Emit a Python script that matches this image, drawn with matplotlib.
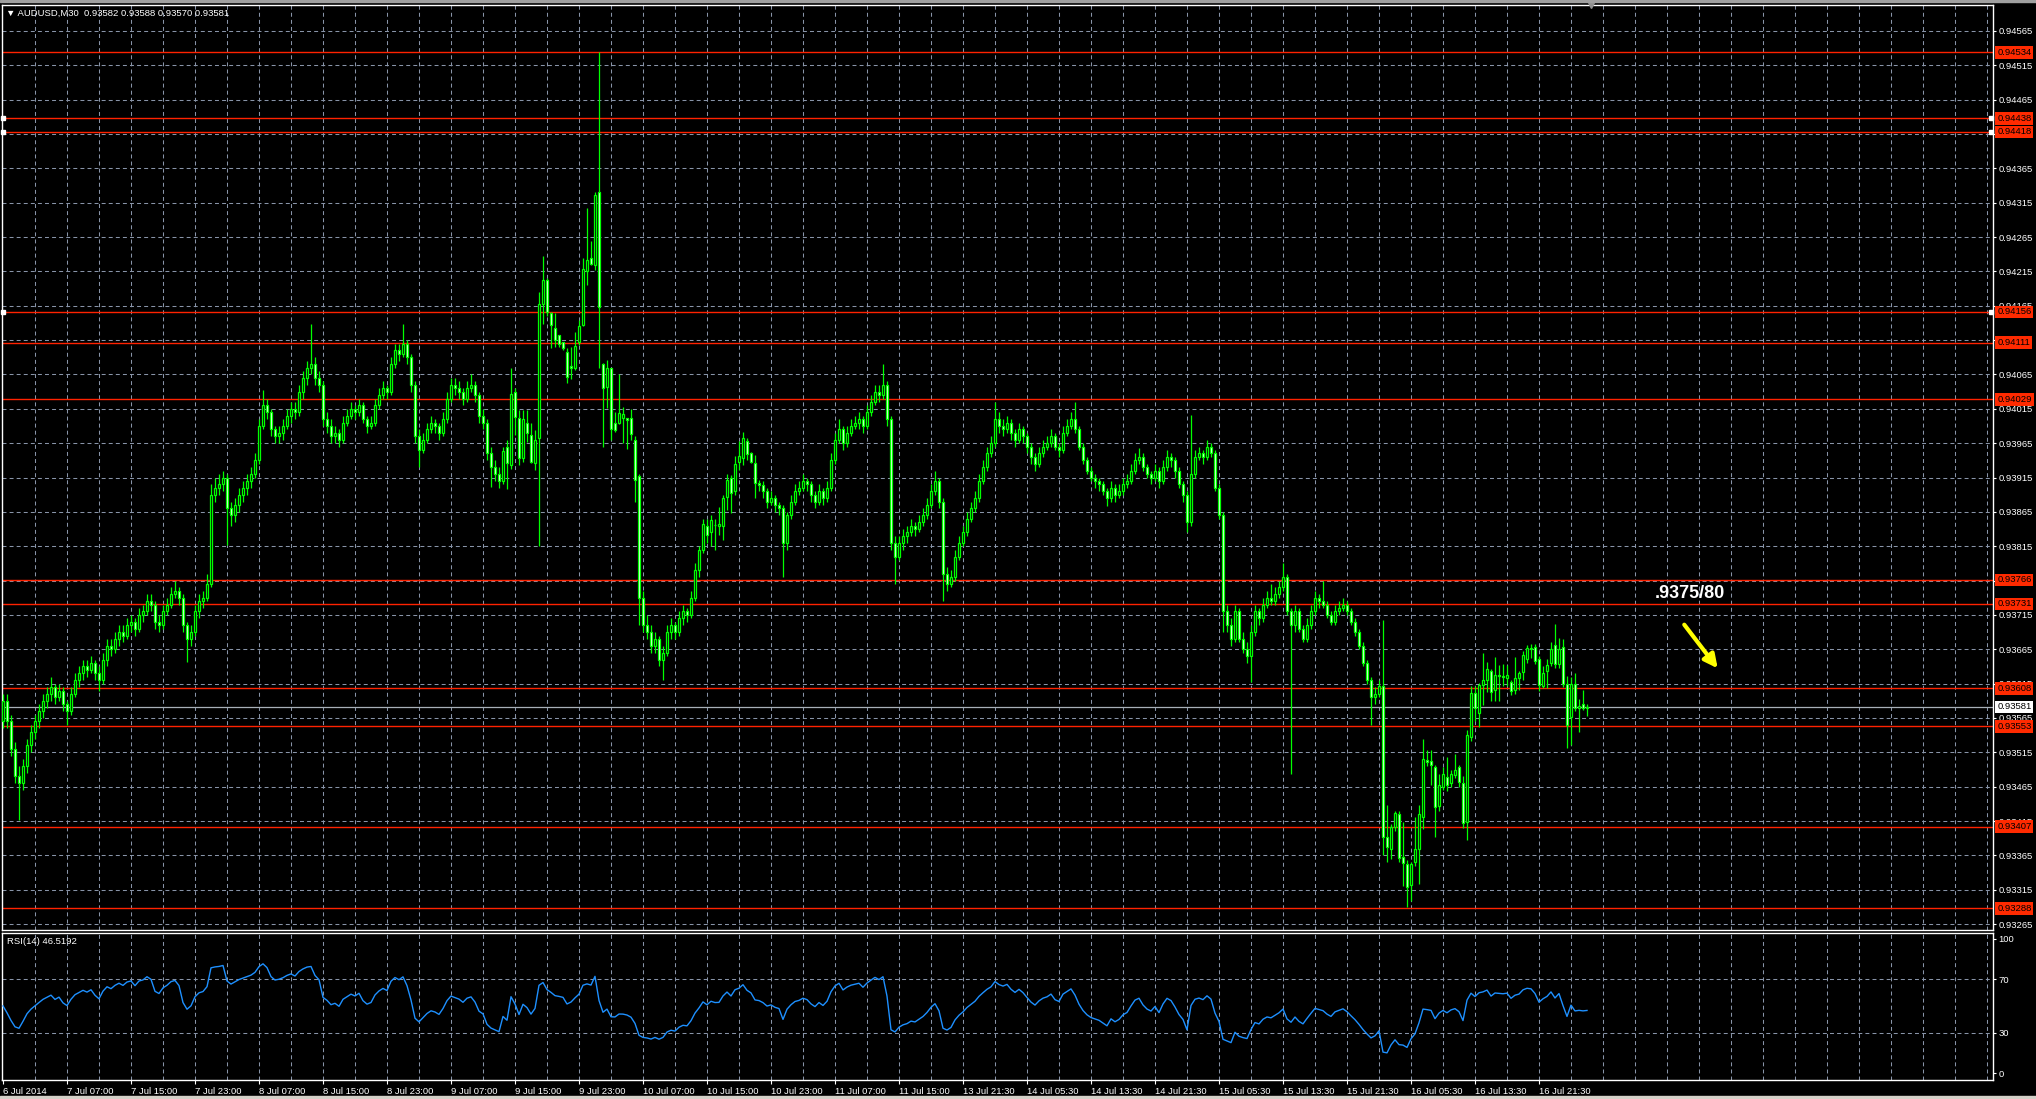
import numpy as np
import matplotlib
matplotlib.use('Agg')
import matplotlib.pyplot as plt
import matplotlib.transforms as mtrans
from matplotlib.patches import Rectangle

# AUDUSD M30 candles, prices stored as points above 0.93000
opens = [
    560, 590, 560, 520, 480, 470, 495, 525, 545, 560,
    575, 590, 600, 610, 595, 605, 585, 575, 600, 620,
    630, 640, 635, 645, 630, 620, 650, 670, 665, 680,
    690, 685, 700, 705, 695, 715, 720, 735, 730, 705,
    700, 720, 730, 745, 750, 740, 700, 680, 690, 720,
    735, 740, 760, 890, 900, 905, 915, 870, 860, 875,
    890, 900, 910, 920, 940, 990, 1020, 1010, 985, 975,
    980, 990, 1005, 1015, 1010, 1040, 1060, 1075, 1080, 1060,
    1050, 1000, 990, 975, 980, 970, 995, 1005, 1015, 1010,
    1020, 1000, 990, 995, 1020, 1035, 1045, 1040, 1080, 1100,
    1095, 1110, 1090, 1050, 975, 955, 970, 985, 995, 990,
    980, 1000, 1030, 1050, 1045, 1040, 1030, 1045, 1050, 1035,
    1005, 995, 950, 930, 920,
    910, 959, 933, 1039, 1001, 944, 994, 977, 936, 973,
    1167, 1202, 1154, 1132, 1122, 1112, 1098, 1077, 1074, 1112,
    1137, 1216, 1234, 1224, 1331, 1080, 1047, 1074, 994, 995,
    1001, 1002, 1002, 970, 917,
    740, 700, 690, 670, 680, 650, 660, 690, 700, 690,
    710, 720, 715, 740, 780,
    810, 845, 836, 846, 845, 845, 886, 914, 896, 938,
    944, 968, 950, 936, 907,
    904, 895, 880, 885, 875, 870, 820, 860, 880, 895,
    900, 910, 905, 890, 880, 895, 885, 900, 940, 970,
    985, 965, 980, 990, 995, 1000, 990, 1010, 1025, 1040,
    1035, 1050, 1000, 820, 800, 820, 830, 835, 845, 840,
    850, 860, 875, 895, 910, 880, 775, 760, 770, 800,
    820, 835, 855, 870, 885, 910, 930, 950, 965, 1000,
    990, 985, 995, 980, 970, 985, 975, 960, 945, 935,
    950, 960, 965, 975, 960, 955, 980, 990, 1000, 985,
    960, 940, 925, 915, 910, 905, 895, 885, 900, 890,
    895, 905, 910, 925, 940, 945, 930, 920, 915, 925,
    910, 930, 945, 940, 925, 905, 890, 850, 920, 945,
    950, 945, 960, 950, 900, 860, 720, 700, 680, 720,
    680, 665, 655, 690, 720, 710, 730, 740, 735, 745,
    755, 770, 720, 700, 720, 695, 680, 700, 720, 740,
    735, 730, 715, 705, 720, 725, 730, 720, 705, 690,
    670, 645, 620, 595, 600,
    612, 392, 375, 406, 425, 363, 353, 322, 355, 374,
    421, 504, 502, 493, 437, 465, 479, 470, 482, 493,
    471, 413, 537, 601, 572, 613, 621, 634, 606, 628,
    626, 623, 617, 606, 623, 632, 651, 667, 669, 651,
    611, 634, 645, 671, 643, 669, 614, 566, 614, 579,
    585, 580,
]
highs = [
    600, 600, 570, 530, 495, 505, 535, 555, 570, 585,
    600, 610, 625, 615, 615, 610, 590, 610, 630, 640,
    650, 650, 655, 650, 640, 660, 680, 680, 690, 700,
    700, 710, 715, 710, 725, 730, 745, 745, 735, 715,
    730, 740, 755, 765, 755, 745, 705, 700, 730, 745,
    750, 775, 905, 915, 920, 925, 920, 880, 885, 900,
    910, 920, 930, 950, 1000, 1043, 1030, 1015, 990, 990,
    1000, 1015, 1025, 1025, 1050, 1070, 1085, 1138, 1090, 1070,
    1055, 1010, 1000, 990, 985, 1005, 1015, 1025, 1020, 1030,
    1025, 1005, 1005, 1030, 1045, 1055, 1050, 1090, 1110, 1110,
    1138, 1115, 1095, 1055, 985, 980, 995, 1005, 1000, 995,
    1010, 1040, 1060, 1060, 1055, 1045, 1055, 1065, 1055, 1040,
    1015, 1000, 960, 940, 930,
    960, 969, 1074, 1045, 1013, 1013, 1013, 994, 984, 1185,
    1237, 1205, 1156, 1154, 1122, 1112, 1104, 1105, 1127, 1144,
    1234, 1307, 1260, 1330, 1535, 1081, 1086, 1074, 1011, 1066,
    1018, 1002, 1015, 975, 920,
    750, 715, 700, 690, 685, 670, 700, 710, 705, 720,
    730, 725, 750, 790, 815,
    854, 855, 860, 855, 872, 890, 920, 918, 946, 968,
    982, 972, 952, 948, 912,
    910, 900, 895, 890, 880, 875, 865, 890, 905, 910,
    920, 915, 910, 895, 905, 900, 910, 950, 980, 1000,
    990, 990, 1000, 1005, 1010, 1005, 1020, 1035, 1050, 1050,
    1080, 1055, 1005, 830, 830, 840, 845, 855, 850, 860,
    870, 885, 905, 925, 915, 885, 785, 780, 810, 830,
    845, 865, 880, 895, 920, 940, 960, 975, 1025, 1010,
    1000, 1005, 1000, 985, 995, 990, 980, 965, 950, 960,
    970, 975, 985, 980, 965, 990, 1000, 1010, 1025, 990,
    965, 945, 930, 920, 915, 910, 900, 910, 905, 905,
    915, 920, 935, 950, 958, 950, 935, 925, 935, 930,
    940, 955, 950, 945, 930, 910, 895, 1006, 955, 960,
    955, 970, 965, 955, 905, 865, 730, 710, 730, 725,
    690, 675, 700, 730, 725, 740, 750, 760, 755, 765,
    790, 775, 725, 730, 725, 700, 710, 730, 750, 745,
    765, 735, 720, 730, 735, 740, 735, 725, 710, 695,
    675, 650, 625, 610, 620,
    708, 438, 410, 430, 430, 414, 358, 356, 421, 438,
    534, 518, 518, 497, 484, 494, 508, 490, 513, 497,
    480, 547, 611, 611, 616, 659, 647, 637, 654, 642,
    644, 642, 620, 654, 633, 662, 671, 672, 672, 655,
    641, 651, 676, 702, 682, 680, 626, 625, 631, 592,
    606, 586,
]
lows = [
    550, 550, 510, 470, 416, 460, 485, 515, 535, 550,
    565, 580, 590, 585, 590, 575, 555, 570, 595, 610,
    620, 625, 630, 620, 605, 615, 640, 655, 660, 670,
    675, 680, 690, 685, 690, 705, 715, 720, 695, 690,
    695, 715, 725, 740, 730, 690, 646, 670, 685, 710,
    725, 735, 755, 880, 890, 895, 817, 845, 850, 865,
    880, 890, 900, 915, 935, 985, 1000, 975, 965, 965,
    970, 985, 995, 1000, 1005, 1030, 1050, 1065, 1050, 1040,
    990, 980, 965, 965, 960, 965, 990, 1000, 1000, 1005,
    995, 980, 985, 990, 1015, 1030, 1030, 1035, 1075, 1085,
    1090, 1080, 1040, 965, 930, 950, 965, 980, 980, 970,
    975, 995, 1025, 1035, 1030, 1020, 1025, 1040, 1025, 995,
    985, 940, 901, 910, 900,
    906, 899, 928, 977, 933, 938, 967, 936, 926, 815,
    1139, 1150, 1103, 1105, 1105, 1100, 1053, 1058, 1072, 1108,
    1135, 1195, 1224, 1217, 1074, 960, 1016, 969, 982, 993,
    965, 957, 969, 880, 700,
    690, 680, 660, 660, 640, 620, 655, 680, 680, 685,
    700, 705, 710, 735, 770,
    805, 820, 815, 809, 831, 824, 868, 863, 890, 926,
    933, 940, 936, 885, 895,
    885, 870, 875, 865, 860, 770, 810, 855, 875, 890,
    895, 895, 880, 870, 875, 875, 880, 895, 935, 965,
    955, 960, 975, 985, 985, 980, 985, 1005, 1020, 1025,
    1030, 990, 810, 760, 795, 810, 820, 830, 830, 835,
    845, 855, 870, 890, 870, 735, 750, 755, 765, 795,
    815, 830, 850, 865, 880, 905, 925, 945, 960, 980,
    975, 980, 970, 960, 965, 965, 950, 935, 925, 930,
    945, 955, 960, 955, 945, 950, 975, 985, 980, 955,
    935, 920, 910, 900, 895, 890, 873, 880, 880, 885,
    890, 900, 905, 920, 935, 925, 915, 905, 910, 900,
    905, 925, 930, 915, 900, 880, 836, 845, 915, 940,
    935, 940, 945, 895, 855, 690, 690, 670, 675, 675,
    660, 645, 618, 685, 700, 705, 725, 730, 730, 740,
    750, 715, 484, 690, 690, 675, 675, 695, 715, 725,
    725, 710, 700, 700, 715, 720, 715, 700, 685, 665,
    640, 615, 555, 585, 595,
    366, 356, 360, 400, 355, 320, 290, 298, 350, 324,
    404, 495, 468, 392, 430, 460, 459, 465, 478, 465,
    405, 388, 531, 560, 552, 584, 603, 589, 589, 589,
    611, 611, 598, 600, 606, 620, 645, 652, 644, 605,
    608, 608, 640, 638, 638, 610, 521, 526, 575, 544,
    576, 568,
]
closes = [
    590, 560, 520, 480, 470, 495, 525, 545, 560, 575,
    590, 600, 610, 595, 605, 585, 575, 600, 620, 630,
    640, 635, 645, 630, 620, 650, 670, 665, 680, 690,
    685, 700, 705, 695, 715, 720, 735, 730, 705, 700,
    720, 730, 745, 750, 740, 700, 680, 690, 720, 735,
    740, 760, 890, 900, 905, 915, 870, 860, 875, 890,
    900, 910, 920, 940, 990, 1020, 1010, 985, 975, 980,
    990, 1005, 1015, 1010, 1040, 1060, 1075, 1080, 1060, 1050,
    1000, 990, 975, 980, 970, 995, 1005, 1015, 1010, 1020,
    1000, 990, 995, 1020, 1035, 1045, 1040, 1080, 1100, 1095,
    1110, 1090, 1050, 975, 955, 970, 985, 995, 990, 980,
    1000, 1030, 1050, 1045, 1040, 1030, 1045, 1050, 1035, 1005,
    995, 950, 930, 920, 910,
    954, 936, 1037, 1003, 943, 1000, 980, 938, 970, 1167,
    1202, 1156, 1137, 1115, 1110, 1104, 1061, 1075, 1106, 1135,
    1218, 1232, 1226, 1326, 1163, 1045, 1075, 986, 984, 1009,
    1008, 999, 978, 912, 740,
    700, 690, 670, 680, 650, 660, 690, 700, 690, 710,
    720, 715, 740, 780, 810,
    848, 831, 853, 846, 847, 885, 911, 893, 935, 946,
    972, 949, 938, 907, 904,
    895, 880, 885, 875, 870, 820, 860, 880, 895, 900,
    910, 905, 890, 880, 895, 885, 900, 940, 970, 985,
    965, 980, 990, 995, 1000, 990, 1010, 1025, 1040, 1035,
    1050, 1000, 820, 800, 820, 830, 835, 845, 840, 850,
    860, 875, 895, 910, 880, 775, 760, 770, 800, 820,
    835, 855, 870, 885, 910, 930, 950, 965, 1000, 990,
    985, 995, 980, 970, 985, 975, 960, 945, 935, 950,
    960, 965, 975, 960, 955, 980, 990, 1000, 985, 960,
    940, 925, 915, 910, 905, 895, 885, 900, 890, 895,
    905, 910, 925, 940, 945, 930, 920, 915, 925, 910,
    930, 945, 940, 925, 905, 890, 850, 920, 945, 950,
    945, 960, 950, 900, 860, 720, 700, 680, 720, 680,
    665, 655, 690, 720, 710, 730, 740, 735, 745, 755,
    770, 720, 700, 720, 695, 680, 700, 720, 740, 735,
    730, 715, 705, 720, 725, 730, 720, 705, 690, 670,
    645, 620, 595, 600, 612,
    392, 377, 406, 426, 361, 354, 319, 353, 374, 425,
    505, 501, 496, 435, 467, 483, 467, 483, 490, 472,
    412, 540, 601, 579, 613, 621, 637, 603, 628, 626,
    624, 628, 604, 623, 630, 657, 667, 665, 648, 613,
    630, 642, 666, 643, 666, 615, 555, 614, 579, 582,
    579, 581,
]

levels = [0.94534, 0.94438, 0.94418, 0.94156, 0.94111, 0.94029,
          0.93766, 0.93731, 0.93608, 0.93553, 0.93407, 0.93288]
marked_levels = [0.94438, 0.94418, 0.94156]
bid = 0.93581
price_ticks = [0.93265 + 0.0005 * k for k in range(27)]
time_labels = ['6 Jul 2014', '7 Jul 07:00', '7 Jul 15:00', '7 Jul 23:00', '8 Jul 07:00',
               '8 Jul 15:00', '8 Jul 23:00', '9 Jul 07:00', '9 Jul 15:00', '9 Jul 23:00',
               '10 Jul 07:00', '10 Jul 15:00', '10 Jul 23:00', '11 Jul 07:00', '11 Jul 15:00',
               '13 Jul 21:30', '14 Jul 05:30', '14 Jul 13:30', '14 Jul 21:30', '15 Jul 05:30',
               '15 Jul 13:30', '15 Jul 21:30', '16 Jul 05:30', '16 Jul 13:30', '16 Jul 21:30']
rsi_ticks = [0, 30, 70, 100]

o = 0.93 + np.array(opens) / 1e5
h = 0.93 + np.array(highs) / 1e5
l = 0.93 + np.array(lows) / 1e5
c = 0.93 + np.array(closes) / 1e5
x = np.arange(len(c))

# RSI(14), Wilder smoothing; history before the first bar is unknown,
# so both averages start from the same typical bar move (RSI 50)
n = 14
d = np.diff(c)
gain = np.clip(d, 0, None)
loss = np.clip(-d, 0, None)
ag = al = np.abs(d[:n]).mean() / 2
rsi = np.full(len(c), 50.0)
for i in range(1, len(c)):
    ag = (ag * (n - 1) + gain[i - 1]) / n
    al = (al * (n - 1) + loss[i - 1]) / n
    rsi[i] = 100 * ag / (ag + al)

plt.rcParams['font.family'] = ['Liberation Sans', 'DejaVu Sans']
FS = 6.8

W, H = 2036, 1099
fig = plt.figure(figsize=(W / 100, H / 100), dpi=100, facecolor='black')
ax = fig.add_axes([2 / W, 1 - 930 / H, 1991 / W, 925 / H], facecolor='black')
ar = fig.add_axes([2 / W, 1 - 1080 / H, 1991 / W, 147 / H], facecolor='black')

fig.patches.append(Rectangle((0, 1 - 2 / H), 1, 2 / H, transform=fig.transFigure, color='#a0a0a0'))
fig.patches.append(Rectangle((0, 0), 1, 3 / H, transform=fig.transFigure, color='#d4d0c8'))

grid_kw = dict(color='#8894a8', lw=0.75, ls=(0, (3.8, 3)), zorder=1)
for p in price_ticks:
    ax.axhline(p, **grid_kw)
for gx in np.arange(8, 498, 8):
    ax.axvline(gx, **grid_kw)
    ar.axvline(gx, **grid_kw)
for v in (30, 70):
    ar.axhline(v, **grid_kw)

for lv in levels:
    ax.axhline(lv, color='#ff2200', lw=1.0, zorder=2)
ax.axhline(bid, color='#a8b0b8', lw=0.9, zorder=2)

# candles: bull body black, bear body white, lime outline
up = c >= o
ax.vlines(x, l, h, color='#00ff00', lw=0.9, zorder=3)
ax.bar(x, np.abs(c - o), bottom=np.minimum(o, c), width=0.58,
       color=np.where(up, 'black', 'white'), edgecolor='#00ff00', linewidth=0.9, zorder=4)

ax.set_xlim(-0.25, 497.5)
ax.set_ylim(0.932564, 0.946028)
ax.set_xticks([])
ax.yaxis.tick_right()
ax.set_yticks(price_ticks)
ax.set_yticklabels([f'{p:.5f}' for p in price_ticks])
ax.tick_params(axis='y', colors='white', length=2.5, width=0.8, pad=1.5, labelsize=FS)
for s in ax.spines.values():
    s.set_color('white')
    s.set_linewidth(1)

tr = mtrans.blended_transform_factory(ax.transAxes, ax.transData)
for lv in levels:
    ax.text(1.0021, lv, f'{lv:.5f}', transform=tr, ha='left', va='center', color='black',
            fontsize=FS, zorder=10, clip_on=False,
            bbox=dict(boxstyle='square,pad=0.2', fc='#ff2a00', ec='none'))
ax.text(1.0021, bid, f'{bid:.5f}', transform=tr, ha='left', va='center', color='black',
        fontsize=FS, zorder=10, clip_on=False,
        bbox=dict(boxstyle='square,pad=0.2', fc='white', ec='none'))
for lv in marked_levels:
    ax.plot([0, 496.9], [lv, lv], ls='none', marker='s', ms=2.5, mfc='white', mec='white',
            zorder=6, clip_on=False)
ax.plot([397], [0.946028], marker='v', color='#909090', ms=5, clip_on=False, zorder=6)

# annotation
ax.text(413, 0.93746, '.9375/80', color='white', fontsize=13, fontweight='bold',
        ha='left', va='center', zorder=8)
ax.annotate('', xy=(429.1, 0.93634), xytext=(419.9, 0.93704),
            arrowprops=dict(arrowstyle='-|>', color='#ffff00', lw=3, mutation_scale=20), zorder=8)

# RSI panel
ar.plot(x, rsi, color='#1e90ff', lw=1.0, zorder=3)
ar.set_xlim(-0.25, 497.5)
ar.set_ylim(-5.2, 104.4)
ar.yaxis.tick_right()
ar.set_yticks(rsi_ticks)
ar.set_yticklabels([str(t) for t in rsi_ticks])
ar.set_xticks(np.arange(0, 16 * len(time_labels), 16))
ar.set_xticklabels(time_labels, ha='left')
ar.tick_params(axis='y', colors='white', length=2.5, width=0.8, pad=1.5, labelsize=FS)
ar.tick_params(axis='x', colors='white', length=3, width=0.8, pad=2, labelsize=FS)
for s in ar.spines.values():
    s.set_color('white')
    s.set_linewidth(1)

fig.text(6 / W, 1 - 13 / H, '\u25bc AUDUSD,M30  0.93582 0.93588 0.93570 0.93581',
         color='white', fontsize=FS, va='center', ha='left')
fig.text(7 / W, 1 - 941 / H, 'RSI(14) 46.5192', color='white', fontsize=FS, va='center', ha='left')

fig.savefig('out.png', dpi=100, facecolor='black')
